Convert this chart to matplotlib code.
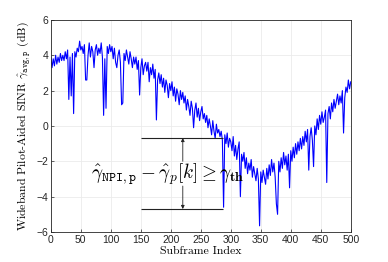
import numpy as np
import matplotlib
matplotlib.use("Agg")
import matplotlib.pyplot as plt

plt.rcParams['mathtext.fontset'] = 'cm'
plt.rcParams['axes.formatter.use_mathtext'] = False

# subframe index, sampled every 2 subframes
subframes = list(range(0, 501, 2))

# wideband pilot-aided SINR (dB)
sinr_db = [
    3.9, 3.3, 3.8, 3.4, 4.0, 3.5, 3.9, 3.6, 4.1, 3.7,
    4.0, 3.7, 4.2, 3.8, 4.3, 1.5, 3.9, 1.7, 4.1, 0.7,
    4.2, 3.9, 4.4, 4.2, 4.8, 4.3, 4.5, 4.1, 4.6, 2.6,
    2.6, 4.0, 4.7, 3.9, 4.5, 4.2, 3.3, 4.3, 4.6, 4.0,
    4.4, 4.1, 4.7, 3.9, 0.6, 3.8, 1.0, 4.5, 4.1, 4.6,
    4.2, 4.5, 3.8, 4.4, 3.6, 3.3, 4.0, 4.3, 3.6, 1.2,
    1.3, 4.1, 3.7, 4.3, 3.9, 3.5, 4.2, 3.8, 3.3, 3.9,
    3.5, 3.9, 3.2, 3.7, 1.75, 3.3, 3.8, 2.9, 3.4, 3.6,
    3.1, 3.6, 2.5, 3.3, 2.9, 3.5, 2.7, 3.2, 0.34, 2.6,
    3.0, 2.4, 2.9, 2.2, 2.7, 1.9, 2.6, 2.3, 1.6, 2.4,
    2.0, 2.5, 1.7, 2.2, 1.4, 2.1, 1.8, 1.2, 2.0, 1.5,
    1.9, 1.3, 1.7, 0.9, 1.5, 1.1, 0.6, 1.4, 1.0, -0.1,
    0.9, 1.3, 0.5, 1.0, 0.3, 0.8, 1.1, 0.4, 0.7, 0.2,
    0.6, -0.1, 0.4, 0.0, -0.5, 0.3, -0.3, -0.7, 0.1, -0.4,
    -0.2, -0.6, -0.3, -0.8, -4.6, -0.5, -1.0, -0.4, -1.2, -0.7,
    -0.9, -1.4, -0.6, -1.7, -1.1, -1.9, -1.3, -0.9, -4.0, -1.6,
    -2.0, -1.5, -2.4, -1.8, -2.7, -2.1, -2.5, -1.9, -2.9, -2.3,
    -2.7, -3.1, -2.4, -3.0, -5.65, -2.6, -3.2, -2.5, -2.9, -3.3,
    -2.4, -3.0, -2.2, -2.8, -1.9, -2.6, -2.1, -2.9, -4.4, -5.0,
    -2.0, -2.6, -1.8, -2.4, -1.5, -2.2, -1.7, -2.5, -1.6, -3.5,
    -1.4, -2.0, -1.2, -1.8, -1.0, -1.6, -0.9, -1.4, -0.7, -1.3,
    -0.6, -1.1, -0.3, -0.9, -0.2, -2.5, -0.6, -0.1, -0.8, -2.3,
    0.0, -0.5, 0.4, -0.2, 0.6, 0.1, 0.8, 0.2, 0.5, 0.9,
    -3.2, 0.7, 1.1, 0.4, 1.3, 0.8, 1.5, 1.0, 1.4, 1.8,
    1.2, 1.7, 1.3, 2.0, -0.4, 1.6, 2.2, 1.9, 2.6, 2.1,
    2.5,
]

# annotation (threshold gap)
gap_top, gap_bottom = -0.68, -4.7
gap_x0, gap_x1 = 151, 287
arrow_x = 220
label_text = r"$\hat{\gamma}_{\mathtt{NPI,p}} - \hat{\gamma}_p[k] \geq \gamma_{\mathbf{th}}$"

fig = plt.figure(figsize=(3.88, 2.62), dpi=100)
ax = fig.add_axes([0.131, 0.1145, 0.773, 0.8095])

ax.plot(subframes, sinr_db, color='#0000ff', linewidth=0.8)

ax.hlines([gap_top, gap_bottom], gap_x0, gap_x1, colors='#222222', linewidth=0.8)
ax.annotate('', xy=(arrow_x, gap_top), xytext=(arrow_x, -2.0),
            arrowprops=dict(arrowstyle='-|>', color='#222222', lw=0.6,
                            mutation_scale=5, shrinkA=0, shrinkB=0))
ax.annotate('', xy=(arrow_x, gap_bottom), xytext=(arrow_x, -3.4),
            arrowprops=dict(arrowstyle='-|>', color='#222222', lw=0.6,
                            mutation_scale=5, shrinkA=0, shrinkB=0))
ax.text(195, -2.7, label_text, fontsize=13.8, ha='center', va='center')

ax.set_xlim(0, 500)
ax.set_ylim(-6, 6)
ax.set_xticks(range(0, 501, 50))
ax.set_yticks(range(-6, 7, 2))
ax.grid(True, color='#ebebeb', linewidth=0.6)
ax.set_axisbelow(True)
ax.tick_params(direction='in', length=2.5, width=0.5, colors='#262626',
               labelsize=7.5, pad=2)
for lab in ax.get_xticklabels() + ax.get_yticklabels():
    lab.set_fontfamily('Liberation Sans')
for sp in ax.spines.values():
    sp.set_color('#262626')
    sp.set_linewidth(0.6)

ax.set_xlabel('Subframe Index', fontfamily='cmr10', fontsize=8.5, labelpad=1)
ax.set_ylabel(r'Wideband Pilot-Aided SINR $\hat{\gamma}_{\mathtt{avg,p}}$ (dB)',
              fontfamily='cmr10', fontsize=8.5, labelpad=3)

fig.savefig('out.png', dpi=100)
